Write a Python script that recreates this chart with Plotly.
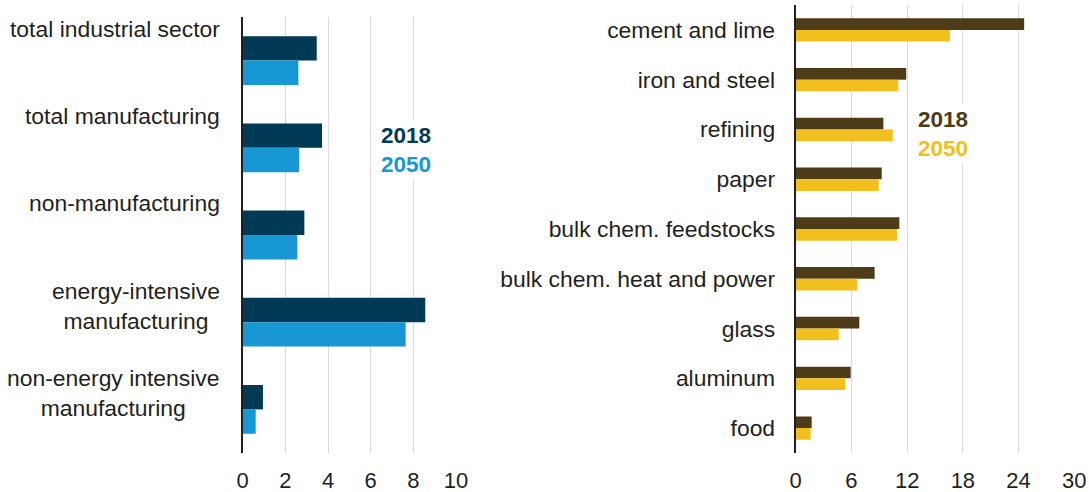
"""
Industrial energy intensity, 2018 vs 2050 (two horizontal bar panels)
"""
import plotly.graph_objects as go
from plotly.subplots import make_subplots

# left panel data
left_cats = ["total industrial sector", "total manufacturing", "non-manufacturing",
             "energy-intensive manufacturing", "non-energy intensive manufacturing"]
left_labels = ["total industrial sector", "total manufacturing", "non-manufacturing",
               "energy-intensive<br>manufacturing", "non-energy intensive<br>manufacturing"]
left_2018 = [3.47, 3.72, 2.89, 8.56, 0.95]
left_2050 = [2.61, 2.64, 2.56, 7.64, 0.61]
left_ticks = [0, 2, 4, 6, 8, 10]

# right panel data
right_cats = ["cement and lime", "iron and steel", "refining", "paper",
              "bulk chem. feedstocks", "bulk chem. heat and power", "glass",
              "aluminum", "food"]
right_2018 = [24.6, 11.9, 9.44, 9.26, 11.16, 8.5, 6.85, 5.92, 1.72]
right_2050 = [16.6, 11.05, 10.45, 8.94, 10.91, 6.64, 4.63, 5.35, 1.61]
right_ticks = [0, 6, 12, 18, 24, 30]

NAVY = "#003a54"
BLUE = "#1798d4"
BROWN = "#4d3c17"
GOLD = "#f2c01e"
TEXT = "#231f20"
GRID = "#d9d9d9"
FONT = "Liberation Sans, Arial, sans-serif"

W, H = 1089, 492

fig = make_subplots(rows=1, cols=2)

fig.add_trace(go.Bar(y=left_cats, x=left_2018, orientation="h", marker_color=NAVY,
                     name="2018", marker_line_width=0, width=0.28, offset=-0.28),
              row=1, col=1)
fig.add_trace(go.Bar(y=left_cats, x=left_2050, orientation="h", marker_color=BLUE,
                     name="2050", marker_line_width=0, width=0.28, offset=0.0),
              row=1, col=1)
fig.add_trace(go.Bar(y=right_cats, x=right_2018, orientation="h", marker_color=BROWN,
                     name="2018", marker_line_width=0, width=0.235, offset=-0.235),
              row=1, col=2)
fig.add_trace(go.Bar(y=right_cats, x=right_2050, orientation="h", marker_color=GOLD,
                     name="2050", marker_line_width=0, width=0.235, offset=0.0),
              row=1, col=2)

fig.update_layout(
    width=W, height=H,
    margin=dict(l=0, r=0, t=0, b=0, autoexpand=False),
    paper_bgcolor="white", plot_bgcolor="white",
    barmode="group",
    showlegend=False,
    font=dict(family=FONT, size=22, color=TEXT),
    xaxis=dict(domain=[242.7 / W, 456 / W], range=[0, 10], tickvals=left_ticks,
               showgrid=True, gridcolor=GRID, gridwidth=1, zeroline=False,
               showline=False, ticks="", ticklabelstandoff=12, automargin=False,
               tickfont=dict(size=22, color=TEXT)),
    yaxis=dict(domain=[(H - 453) / H, (H - 17) / H], autorange="reversed",
               showticklabels=False, showgrid=False, zeroline=False,
               showline=True, linecolor=TEXT, linewidth=2, automargin=False),
    xaxis2=dict(domain=[795.7 / W, 1074.3 / W], range=[0, 30], tickvals=right_ticks,
                showgrid=True, gridcolor=GRID, gridwidth=1, zeroline=False,
                showline=False, ticks="", ticklabelstandoff=12, automargin=False,
                tickfont=dict(size=22, color=TEXT)),
    yaxis2=dict(domain=[(H - 453) / H, (H - 5) / H], autorange="reversed",
                showgrid=False, zeroline=False, ticks="",
                showline=True, linecolor=TEXT, linewidth=2, automargin=False,
                ticklabelstandoff=14, tickfont=dict(size=22.9, color=TEXT)),
)

# left category labels sit at the top of each band
n_left = len(left_labels)
for i, lab in enumerate(left_labels):
    fig.add_annotation(text=lab, xref="paper", yref="y domain", x=222 / W,
                       y=1 - i / n_left, xanchor="right", yanchor="top",
                       align="center", showarrow=False, yshift=3,
                       font=dict(size=22.9, color=TEXT))

# inline legends
fig.add_annotation(
    text=f"<b><span style='color:{NAVY}'>2018</span><br>"
         f"<span style='color:{BLUE}'>2050</span></b>",
    xref="x", yref="y", x=7.65, y=1.02, xanchor="center", yanchor="middle",
    align="center", showarrow=False, bgcolor="white", borderpad=3,
    font=dict(size=22.5))
fig.add_annotation(
    text=f"<b><span style='color:{BROWN}'>2018</span><br>"
         f"<span style='color:{GOLD}'>2050</span></b>",
    xref="x2", yref="y2", x=12.75, y=2.09, xanchor="left", yanchor="middle",
    align="left", showarrow=False, bgcolor="white", borderpad=3,
    font=dict(size=22.5))

# page body has a default 8px margin; drop it so the figure starts at 0,0
fig.write_html("out.html", config={"displayModeBar": False},
               post_script="document.body.style.margin='0';")
